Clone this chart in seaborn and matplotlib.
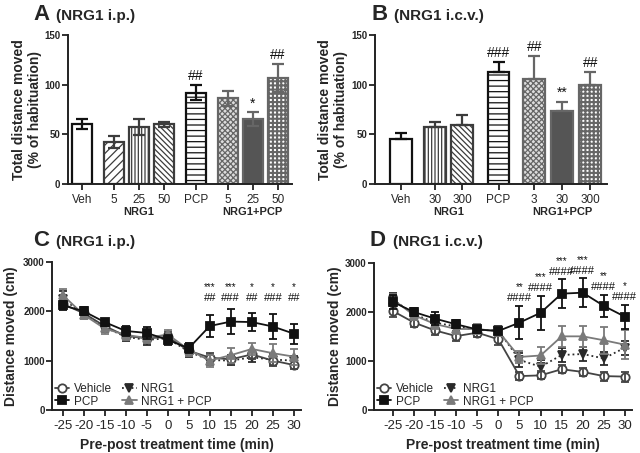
import numpy as np
import pandas as pd
import matplotlib
matplotlib.use("Agg")
import matplotlib.pyplot as plt
import seaborn as sns

sns.set_style("ticks")
plt.rcParams['font.family'] = ['Liberation Sans', 'DejaVu Sans']
plt.rcParams['hatch.linewidth'] = 0.9

# ---- panel A (NRG1 i.p.) bars ----
A_labels = ['Veh', '5', '25', '50', 'PCP', '5', '25', '50']
A_pos = [0, 1.28, 2.28, 3.28, 4.56, 5.84, 6.84, 7.84]
A_mean = [60, 42, 57, 60, 92, 86, 65, 107]
A_sem = [5, 6, 8, 2.5, 8, 8, 7, 14]
A_marks = ['', '', '', '', '##', '', '*', '##']

# ---- panel B (NRG1 i.c.v.) bars ----
B_labels = ['Veh', '30', '300', 'PCP', '3', '30', '300']
B_pos = [0, 1.24, 2.22, 3.55, 4.85, 5.87, 6.89]
B_mean = [45, 57, 59, 113, 106, 73, 100]
B_sem = [6, 5, 10, 10, 23, 9.5, 13]
B_marks = ['', '', '', '###', '##', '**', '##']

# ---- time course ----
time = [-25, -20, -15, -10, -5, 0, 5, 10, 15, 20, 25, 30]

C_veh = [2150, 1960, 1700, 1500, 1450, 1480, 1200, 1060, 1025, 1125, 1000, 910]
C_veh_sem = [100, 90, 90, 90, 90, 90, 100, 100, 90, 90, 100, 90]
C_pcp = [2120, 2000, 1780, 1600, 1560, 1420, 1250, 1700, 1790, 1780, 1690, 1545]
C_pcp_sem = [90, 80, 70, 100, 120, 100, 100, 230, 250, 190, 245, 200]
C_nrg = [2250, 1950, 1680, 1480, 1420, 1450, 1180, 1010, 1000, 1065, 1020, 1000]
C_nrg_sem = [150, 90, 100, 90, 100, 90, 110, 100, 90, 100, 110, 100]
C_np = [2330, 1930, 1650, 1520, 1460, 1530, 1220, 1000, 1110, 1235, 1150, 1080]
C_np_sem = [120, 90, 120, 100, 110, 90, 130, 120, 150, 130, 180, 160]
C_stars = ['', '', '', '', '', '', '', '***', '***', '*', '*', '*']
C_hash = ['', '', '', '', '', '', '', '##', '###', '##', '###', '##']

D_veh = [2015, 1780, 1620, 1505, 1575, 1440, 690, 705, 830, 775, 690, 680]
D_veh_sem = [120, 80, 100, 90, 80, 110, 80, 80, 80, 90, 90, 100]
D_pcp = [2200, 1995, 1860, 1745, 1640, 1610, 1780, 1980, 2370, 2390, 2120, 1900]
D_pcp_sem = [140, 90, 130, 80, 80, 60, 340, 350, 290, 290, 220, 240]
D_nrg = [2250, 1950, 1780, 1700, 1630, 1620, 1020, 880, 1120, 1140, 1050, 1270]
D_nrg_sem = [130, 100, 120, 100, 90, 80, 150, 130, 150, 150, 140, 140]
D_np = [2250, 1930, 1750, 1650, 1650, 1600, 1080, 1110, 1500, 1500, 1420, 1330]
D_np_sem = [120, 100, 110, 100, 100, 90, 130, 170, 210, 210, 270, 300]
D_stars = ['', '', '', '', '', '', '**', '***', '***', '***', '**', '*']
D_hash = ['', '', '', '', '', '', '####', '####', '####', '####', '####', '####']

fig = plt.figure(figsize=(6.4, 4.53), dpi=100)

def style_axis(ax):
    sns.despine(ax=ax)
    for s in ['left', 'bottom']:
        ax.spines[s].set_linewidth(1.4)
        ax.spines[s].set_color('#222222')
    ax.tick_params(direction='out', length=4, width=1.3, color='#222222')
    ax.tick_params(axis='y', pad=1.5)
    for t in ax.get_yticklabels():
        t.set_fontsize(7)
        t.set_fontweight('bold')
    for t in ax.get_xticklabels():
        t.set_fontsize(8.5)


def bar_panel(ax, pos, mean, sem, labels, marks, hatches, edges, faces, both):
    df = pd.DataFrame({'pos': pos, 'val': mean})
    sns.barplot(data=df, x='pos', y='val', native_scale=True, color='white',
                errorbar=None, width=0.8, ax=ax)
    for p, h, ec, fc in zip(ax.patches, hatches, edges, faces):
        p.set_facecolor(fc)
        p.set_edgecolor(ec)
        p.set_hatch(h)
        p.set_linewidth(1.6)
        if h.startswith('+') and hasattr(p, 'set_hatch_linewidth'):
            p.set_hatch_linewidth(1.5)
    for x, m, s, ec, mk in zip(pos, mean, sem, edges, marks):
        lo = s if both else 0
        ax.errorbar(x, m, yerr=[[lo], [s]], fmt='none', ecolor=ec,
                    elinewidth=1.6, capsize=4, capthick=1.6, zorder=3)
        if mk:
            ax.text(x, m + s + 2, mk, ha='center', va='bottom', fontsize=10,
                    color='#111111')
    ax.set_ylim(0, 150)
    ax.set_yticks([0, 50, 100, 150])
    ax.set_xticks(pos)
    ax.set_xticklabels(labels)
    ax.set_xlabel('')
    ax.set_ylabel('Total distance moved\n(% of habituation)', fontsize=10,
                  fontweight='bold')
    style_axis(ax)


def line_panel(ax, series, xlim, stars, hashes, star_y, hash_y):
    for vals, sem, lab, col, mk, mfc, ls in series:
        sns.lineplot(x=time, y=vals, ax=ax, color=col, marker=mk, markersize=6,
                     markerfacecolor=mfc, markeredgecolor=col, markeredgewidth=1.3,
                     linestyle=ls, linewidth=1.3, label=lab, legend=False)
        ax.errorbar(time, vals, yerr=sem, fmt='none', ecolor=col, elinewidth=1.3,
                    capsize=3, capthick=1.3)
    for t, s, h, sy, hy in zip(time, stars, hashes, star_y, hash_y):
        if h:
            ax.text(t, hy, h, ha='center', va='center', fontsize=8, color='#111111')
        if s:
            ax.text(t, sy, s, ha='center', va='center', fontsize=7, color='#111111')
    ax.set_xlim(*xlim)
    ax.set_ylim(0, 3000)
    ax.set_yticks([0, 1000, 2000, 3000])
    ax.set_xticks(time)
    ax.set_xticklabels([str(t) for t in time])
    ax.set_ylabel('Distance moved (cm)', fontsize=10, fontweight='bold')
    ax.set_xlabel('Pre-post treatment time (min)', fontsize=10, fontweight='bold',
                  labelpad=4)
    style_axis(ax)
    for t in ax.get_xticklabels():
        t.set_fontsize(9.5)
    leg_lines = [l for l in ax.lines if l.get_label() in
                 ('Vehicle', 'PCP', 'NRG1', 'NRG1 + PCP')]
    order = {'Vehicle': 0, 'PCP': 1, 'NRG1': 2, 'NRG1 + PCP': 3}
    leg_lines.sort(key=lambda l: order[l.get_label()])
    ax.legend(handles=leg_lines, loc='lower left', ncol=2, frameon=False,
              fontsize=8.5, handlelength=1.2, handletextpad=0.4,
              labelspacing=0.05, columnspacing=0.9, borderaxespad=0.1,
              borderpad=0.1)


# ---- bar styles ----
k = '#111111'
g1 = '#3c3c3c'
g2 = '#666666'
A_hatch = ['', '////', '|||||', '\\\\\\\\\\\\', '---', 'xxxxxx', '', '++++']
A_edge = [k, g1, g1, g1, k, g2, g2, g2]
A_face = ['white', 'white', 'white', 'white', 'white', '#dddddd', '#555555', 'white']
B_hatch = ['', '|||||', '\\\\\\\\\\\\', '---', 'xxxxxx', '', '++++']
B_edge = [k, g1, g1, k, g2, g2, g2]
B_face = ['white', 'white', 'white', 'white', '#dddddd', '#555555', 'white']

axA = fig.add_axes([0.106, 0.594, 0.350, 0.329])
bar_panel(axA, A_pos, A_mean, A_sem, A_labels, A_marks, A_hatch, A_edge, A_face, True)
axA.set_xlim(-0.56, 8.4)
axA.yaxis.set_label_coords(-0.115, 0.5)
axA.text(2.28, -0.19, 'NRG1', transform=axA.get_xaxis_transform(), ha='center',
         va='center', fontsize=8, fontweight='bold')
axA.text(6.84, -0.19, 'NRG1+PCP', transform=axA.get_xaxis_transform(), ha='center',
         va='center', fontsize=8, fontweight='bold')

axB = fig.add_axes([0.586, 0.594, 0.362, 0.329])
bar_panel(axB, B_pos, B_mean, B_sem, B_labels, B_marks, B_hatch, B_edge, B_face, False)
axB.set_xlim(-0.95, 7.49)
axB.yaxis.set_label_coords(-0.115, 0.5)
axB.text(1.73, -0.19, 'NRG1', transform=axB.get_xaxis_transform(), ha='center',
         va='center', fontsize=8, fontweight='bold')
axB.text(5.87, -0.19, 'NRG1+PCP', transform=axB.get_xaxis_transform(), ha='center',
         va='center', fontsize=8, fontweight='bold')

C_series = [
    (C_nrg, C_nrg_sem, 'NRG1', '#2a2a2a', 'v', '#2a2a2a', ':'),
    (C_veh, C_veh_sem, 'Vehicle', '#444444', 'o', 'white', '-'),
    (C_np, C_np_sem, 'NRG1 + PCP', '#7a7a7a', '^', '#7a7a7a', '-'),
    (C_pcp, C_pcp_sem, 'PCP', '#111111', 's', '#111111', '-'),
]
D_series = [
    (D_nrg, D_nrg_sem, 'NRG1', '#2a2a2a', 'v', '#2a2a2a', ':'),
    (D_veh, D_veh_sem, 'Vehicle', '#444444', 'o', 'white', '-'),
    (D_np, D_np_sem, 'NRG1 + PCP', '#7a7a7a', '^', '#7a7a7a', '-'),
    (D_pcp, D_pcp_sem, 'PCP', '#111111', 's', '#111111', '-'),
]

axC = fig.add_axes([0.082, 0.095, 0.389, 0.327])
line_panel(axC, C_series, (-27.4, 31.8), C_stars, C_hash,
           [2480] * len(time), [2270] * len(time))
axC.yaxis.set_label_coords(-0.14, 0.5)

axD = fig.add_axes([0.585, 0.095, 0.402, 0.325])
D_hash_y = [m + s + 160 for m, s in zip(D_pcp, D_pcp_sem)]
D_star_y = [h + 220 for h in D_hash_y]
line_panel(axD, D_series, (-29.4, 31.6), D_stars, D_hash, D_star_y, D_hash_y)
axD.yaxis.set_label_coords(-0.125, 0.5)
for t in axD.texts:
    t.set_clip_on(False)

# ---- panel titles ----
for x, y, letter, sub in [(0.052, 0.967, 'A', '(NRG1 i.p.)'),
                          (0.580, 0.967, 'B', '(NRG1 i.c.v.)'),
                          (0.052, 0.468, 'C', '(NRG1 i.p.)'),
                          (0.578, 0.468, 'D', '(NRG1 i.c.v.)')]:
    fig.text(x, y, letter, fontsize=16, fontweight='bold', ha='left', va='center')
    fig.text(x + 0.036, y - 0.002, sub, fontsize=11, fontweight='bold', ha='left',
             va='center')

fig.savefig('out.png', dpi=100)
